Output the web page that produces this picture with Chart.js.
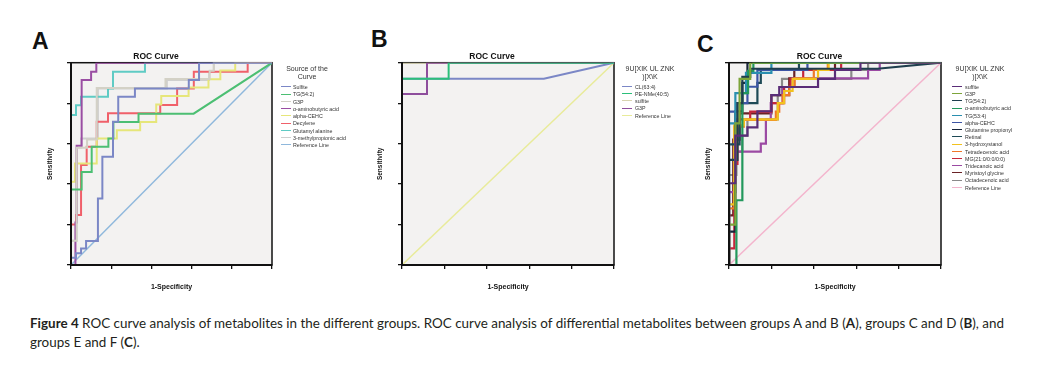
<!DOCTYPE html>
<html>
<head>
<meta charset="utf-8">
<script src="https://cdn.jsdelivr.net/npm/chart.js@4.4.1/dist/chart.umd.min.js"></script>
<style>
  body { margin: 0; background: #fff; width: 1064px; height: 379px; overflow: hidden; position: relative; font-family: "Liberation Sans", Arial, sans-serif; }
  canvas { position: absolute; }
  .letter { position: absolute; font-weight: bold; font-size: 23px; line-height: 23px; color: #111; }
  .lg { position: absolute; font-size: 5.3px; line-height: 6px; color: #333; white-space: nowrap; }
  .lgline { position: absolute; height: 0; border-top: 1.5px solid; }
  .lgtitle { position: absolute; font-size: 7px; line-height: 8px; text-align: center; color: #333; white-space: nowrap; transform: translateX(-50%); }
  .cap { position: absolute; left: 30px; font-family: Lato, "Open Sans", sans-serif; font-size: 13px; line-height: 16px; color: #231f20; white-space: nowrap; transform-origin: 0 0; }
</style>
</head>
<body>
<div class="letter" style="left:32px;top:30px">A</div>
<div class="letter" style="left:371px;top:28px">B</div>
<div class="letter" style="left:697px;top:33px">C</div>

<canvas id="chartA" width="304" height="242" style="left:40px;top:50px"></canvas>
<canvas id="chartB" width="325" height="242" style="left:370px;top:50px"></canvas>
<canvas id="chartC" width="302" height="242" style="left:698px;top:50px"></canvas>

<div class="cap" id="cap1" style="top:315px"><b>Figure 4</b> ROC curve analysis of metabolites in the different groups. ROC curve analysis of differential metabolites between groups A and B (<b>A</b>), groups C and D (<b>B</b>), and</div>
<div class="cap" id="cap2" style="top:334px">groups E and F (<b>C</b>).</div>

<script>
// ---- Panel A: groups A vs B (x = 1-specificity, y = sensitivity)
const namesA = ['Sulfite', 'TG(54:2)', 'G3P', 'α-aminobutyric acid', 'alpha-CEHC', 'Decylene', 'Glutamyl alanine', '3-methylpropionic acid', 'Reference Line'];
const aSulfite = [[0,0],[0,0.036],[0.025,0.036],[0.025,0.058],[0.05,0.058],[0.05,0.082],[0.075,0.082],[0.075,0.119],[0.134,0.119],[0.134,0.329],[0.156,0.329],[0.156,0.535],[0.209,0.535],[0.209,0.708],[0.235,0.708],[0.235,0.832],[0.318,0.832],[0.318,0.873],[0.586,0.873],[0.586,0.914],[0.637,0.914],[0.637,1],[1,1]];
const aTG542 = [[0,0],[0,0.373],[0.053,0.373],[0.053,0.46],[0.103,0.46],[0.103,0.584],[0.186,0.584],[0.186,0.625],[0.211,0.625],[0.211,0.707],[0.336,0.707],[0.336,0.748],[0.61,0.748],[1,1]];
const aG3P = [[0,0],[0,0.12],[0.028,0.12],[0.028,0.58],[0.08,0.58],[0.08,0.62],[0.128,0.62],[0.128,0.875],[0.47,0.875],[0.47,0.92],[0.69,0.92],[0.69,0.96],[0.71,0.96],[0.71,1],[1,1]];
const aAmino = [[0,0],[0.022,0],[0.022,0.21],[0.028,0.21],[0.028,0.59],[0.053,0.59],[0.053,0.914],[0.1,0.914],[0.1,0.955],[0.126,0.955],[0.126,1],[1,1]];
const aCEHC = [[0,0],[0,0.411],[0.02,0.411],[0.02,0.502],[0.128,0.502],[0.128,0.625],[0.228,0.625],[0.228,0.666],[0.344,0.666],[0.344,0.707],[0.424,0.707],[0.424,0.793],[0.449,0.793],[0.449,0.836],[0.585,0.836],[0.585,0.877],[0.684,0.877],[0.684,0.918],[0.743,0.918],[0.743,0.962],[0.817,0.962],[0.817,1],[1,1]];
const aDecylene = [[0,0],[0,0.2],[0.025,0.2],[0.025,0.247],[0.05,0.247],[0.05,0.494],[0.078,0.494],[0.078,0.584],[0.128,0.584],[0.128,0.708],[0.184,0.708],[0.184,0.75],[0.444,0.75],[0.444,0.791],[0.528,0.791],[0.528,0.873],[0.611,0.873],[0.611,0.955],[0.879,0.955],[0.879,1],[1,1]];
const aGlutamyl = [[0,0],[0,0.741],[0.025,0.741],[0.025,0.79],[0.05,0.79],[0.05,0.832],[0.184,0.832],[0.184,0.873],[0.209,0.873],[0.209,0.955],[0.368,0.955],[0.368,1],[1,1]];
const aMethyl = [[0,0],[0,0.12],[0.028,0.12],[0.028,0.58],[0.05,0.58],[0.05,0.625],[0.134,0.625],[0.134,0.873],[0.477,0.873],[0.477,0.914],[0.687,0.914],[0.687,0.955],[0.711,0.955],[0.711,1],[1,1]];
const aReference = [[0,0],[1,1]];
const curvesA = [aSulfite, aTG542, aG3P, aAmino, aCEHC, aDecylene, aGlutamyl, aMethyl, aReference];
const colorsA = ['#7b87c6', '#4cbf73', '#d3d1c6', '#9a4ea3', '#e6e67a', '#f0606a', '#5fcbc4', '#cfcfcf', '#8fb8dc'];

// ---- Panel B: groups C vs D
const namesB = ['CL(63:4)', 'PE-NMe(40:5)', 'sulfite', 'G3P', 'Reference Line'];
const bCL = [[0,0],[0,0.921],[0.669,0.921],[1,1]];
const bPE = [[0,0],[0,0.921],[0.22,0.921],[0.22,1],[1,1]];
const bSulfite = [[0,0],[0,1],[1,1]];
const bG3P = [[0,0],[0,0.845],[0.118,0.845],[0.118,1],[1,1]];
const bReference = [[0,0],[1,1]];
const curvesB = [bCL, bPE, bSulfite, bG3P, bReference];
const colorsB = ['#7b87c6', '#2bbf7a', '#d8d4b0', '#8e4e9c', '#e8eb9a'];
const drawOrderB = [1, 0, 3, 2, 4];

// ---- Panel C: groups E vs F
const namesC = ['suffite', 'G3P', 'TG(54:2)', 'α-aminobutyric acid', 'TG(53:4)', 'alpha-CEHC', 'Glutamine propionyl', 'Retinal', '3-hydroxystanol', 'Tetradecenoic acid', 'MG(21:0/0:0/0:0)', 'Tridecanoic acid', 'Myristoyl glycine', 'Octadecenoic acid', 'Reference Line'];
const cSuffite = [[0,0],[0,0.404],[0.03,0.404],[0.03,0.64],[0.087,0.64],[0.087,0.68],[0.134,0.68],[0.134,0.76],[0.2,0.76],[0.2,0.84],[0.237,0.84],[0.237,0.88],[0.42,0.88],[0.42,0.92],[0.5,0.92],[0.5,0.964],[0.62,0.964],[0.62,1],[1,1]];
const cG3P = [[0,0],[0,0.2],[0.03,0.2],[0.03,0.7],[0.05,0.7],[0.05,0.92],[0.1,0.92],[0.1,1],[1,1]];
const cTG542 = [[0,0],[0,0.52],[0.04,0.52],[0.04,0.8],[0.063,0.8],[0.063,0.93],[0.1,0.93],[0.1,0.97],[0.7,0.97],[1,1]];
const cAmino = [[0,0],[0.035,0],[0.035,0.32],[0.063,0.32],[0.063,0.85],[0.09,0.85],[0.09,0.96],[0.115,0.96],[0.115,1],[1,1]];
const cTG534 = [[0,0],[0,0.7],[0.03,0.7],[0.03,0.85],[0.08,0.85],[0.08,0.95],[0.2,0.95],[0.2,1],[1,1]];
const cCEHC = [[0,0],[0,0.758],[0.039,0.758],[0.039,0.8],[0.087,0.8],[0.087,0.881],[0.134,0.881],[0.134,0.964],[0.37,0.964],[0.37,1],[1,1]];
const cGlutamine = [[0,0],[0,0.165],[0.03,0.165],[0.03,0.76],[0.063,0.76],[0.063,0.9],[0.087,0.9],[0.087,1],[1,1]];
const cRetinal = [[0,0],[0,0.596],[0.05,0.596],[0.05,0.8],[0.134,0.8],[0.134,0.9],[0.15,0.9],[0.15,0.964],[0.33,0.964],[0.33,1],[1,1]];
const cHydroxystanol = [[0,0],[0,0.3],[0.025,0.3],[0.025,0.69],[0.07,0.69],[0.07,0.72],[0.23,0.72],[0.23,0.8],[0.26,0.8],[0.26,0.86],[0.3,0.86],[0.3,0.92],[0.42,0.92],[0.42,0.964],[0.47,0.964],[0.47,1],[1,1]];
const cTetradecenoic = [[0,0],[0,0.28],[0.025,0.28],[0.025,0.684],[0.07,0.684],[0.07,0.717],[0.221,0.717],[0.221,0.758],[0.237,0.758],[0.237,0.8],[0.253,0.8],[0.253,0.84],[0.284,0.84],[0.284,0.881],[0.31,0.881],[0.31,0.923],[0.4,0.923],[0.4,0.964],[0.466,0.964],[0.466,1],[1,1]];
const cMG = [[0,0],[0,0.082],[0.025,0.082],[0.025,0.5],[0.04,0.5],[0.04,0.72],[0.1,0.72],[0.1,0.758],[0.2,0.758],[0.2,0.8],[0.26,0.8],[0.26,0.88],[0.29,0.88],[0.29,0.92],[0.35,0.92],[0.35,0.964],[0.529,0.964],[0.529,1],[1,1]];
const cTridecanoic = [[0,0],[0,0.36],[0.03,0.36],[0.03,0.56],[0.15,0.56],[0.15,0.6],[0.174,0.6],[0.174,0.72],[0.197,0.72],[0.197,0.8],[0.253,0.8],[0.253,0.88],[0.3,0.88],[0.3,0.923],[0.656,0.923],[0.656,0.964],[0.711,0.964],[0.711,1],[1,1]];
const cMyristoyl = [[0,0],[0,0.245],[0.02,0.245],[0.02,0.62],[0.05,0.62],[0.05,0.75],[0.2,0.75],[0.2,0.84],[0.284,0.84],[0.284,0.923],[0.308,0.923],[0.308,0.964],[0.5,0.964],[0.5,1],[1,1]];
const cOctadecenoic = [[0,0],[0,0.445],[0.035,0.445],[0.035,0.56],[0.063,0.56],[0.063,0.64],[0.087,0.64],[0.087,0.72],[0.23,0.72],[0.23,0.84],[0.25,0.84],[0.25,0.92],[0.577,0.92],[0.577,0.964],[0.656,0.964],[0.656,1],[1,1]];
const cReference = [[0,0],[1,1]];
const curvesC = [cSuffite, cG3P, cTG542, cAmino, cTG534, cCEHC, cGlutamine, cRetinal, cHydroxystanol, cTetradecenoic, cMG, cTridecanoic, cMyristoyl, cOctadecenoic, cReference];
const colorsC = ['#5a2d78', '#7da53a', '#1f3f4e', '#22985c', '#2a8fb0', '#3d55a5', '#172438', '#1e4a56', '#f2c21e', '#f0782a', '#c4263c', '#9b4aa3', '#6a2226', '#8a8a8a', '#f3b5cd'];

const axisTicks = [0, 0.2, 0.4, 0.6, 0.8, 1];

// plot background + frame
const plotFrame = {
  id: 'plotFrame',
  beforeDraw(chart) {
    const { ctx, chartArea: a } = chart;
    ctx.save();
    ctx.fillStyle = '#f3f2f1';
    ctx.fillRect(a.left, a.top, a.width, a.height);
    ctx.restore();
  },
  beforeDatasetsDraw(chart) {
    const { ctx, chartArea: a } = chart;
    ctx.save();
    ctx.strokeStyle = '#111';
    ctx.lineWidth = 1.5;
    ctx.strokeRect(a.left, a.top, a.width, a.height);
    ctx.restore();
  }
};

function makeAxis(title, isX, titlePad, size) {
  return {
    type: 'linear',
    min: 0,
    max: 1,
    afterBuildTicks: s => { s.ticks = axisTicks.map(v => ({ value: v })); },
    ticks: { display: false },
    grid: { drawOnChartArea: false, drawTicks: true, tickLength: 4, color: '#111', lineWidth: 1.3 },
    border: { display: true, color: '#111', width: 2, z: 1 },
    title: { display: true, text: title, color: '#111', font: { size: isX ? 7 : 6.5, weight: 'bold' }, padding: titlePad },
    afterFit: s => { if (isX) s.height = size; else s.width = size; }
  };
}

function drawPanel(id, names, curves, colors, yTitlePad, yWidth, padRight, lineW, order) {
  const ctx = document.getElementById(id).getContext('2d');
  return new Chart(ctx, {
    type: 'line',
    data: {
      datasets: curves.map((c, i) => ({
        label: names[i],
        data: c.map(p => ({ x: p[0], y: p[1] })),
        borderColor: colors[i],
        borderWidth: i === curves.length - 1 ? 1.5 : lineW,
        order: order ? order[i] : i,
        pointRadius: 0,
        tension: 0,
        fill: false
      }))
    },
    options: {
      responsive: false,
      animation: false,
      layout: { padding: { left: 0, right: padRight, top: 0, bottom: 0 } },
      scales: {
        x: makeAxis('1-Specificity', true, { top: 0, bottom: 0.8 }, 27),
        y: makeAxis('Sensitivity', false, { top: yTitlePad, bottom: 0 }, yWidth)
      },
      plugins: {
        legend: { display: false },
        tooltip: { enabled: false },
        title: { display: true, text: 'ROC Curve', color: '#111', font: { size: 8.5, weight: 'bold' }, padding: { top: 1.9, bottom: 0.6 } }
      }
    },
    plugins: [plotFrame]
  });
}

drawPanel('chartA', namesA, curvesA, colorsA, 6.1, 31, 72, 2);
drawPanel('chartB', namesB, curvesB, colorsB, 6.8, 32, 81, 2, drawOrderB);
drawPanel('chartC', namesC, curvesC, colorsC, 6.1, 31, 59, 2.2);

// legends (HTML, built from the same name/colour lists)
function buildLegend(title, names, colors, lineX, textX, titleX, firstY, step) {
  const t = document.createElement('div');
  t.className = 'lgtitle';
  t.style.left = titleX + 'px';
  t.style.top = '65px';
  t.innerHTML = title;
  document.body.appendChild(t);
  names.forEach((n, i) => {
    const y = firstY + i * step;
    const ln = document.createElement('div');
    ln.className = 'lgline';
    ln.style.left = lineX + 'px';
    ln.style.width = '10px';
    ln.style.top = (y - 0.75) + 'px';
    ln.style.borderColor = colors[i];
    document.body.appendChild(ln);
    const tx = document.createElement('div');
    tx.className = 'lg';
    tx.style.left = textX + 'px';
    tx.style.top = (y - 3) + 'px';
    tx.textContent = n;
    document.body.appendChild(tx);
  });
}
buildLegend('Source of the<br>Curve', namesA, colorsA, 281, 293, 307, 87, 7.25);
buildLegend('9U[XIK UL ZNK<br>)[X\\K', namesB, colorsB, 622, 635, 650, 86.7, 7.25);
buildLegend('9U[XIK UL ZNK<br>)[X\\K', namesC, colorsC, 952, 965, 980, 86.7, 7.2);

// fit caption line to the figure width
const cap1 = document.getElementById('cap1');
const cap2 = document.getElementById('cap2');
const k = 974 / cap1.getBoundingClientRect().width;
cap1.style.transform = 'scaleX(' + k + ')';
cap2.style.transform = 'scaleX(' + k + ')';
</script>
</body>
</html>
